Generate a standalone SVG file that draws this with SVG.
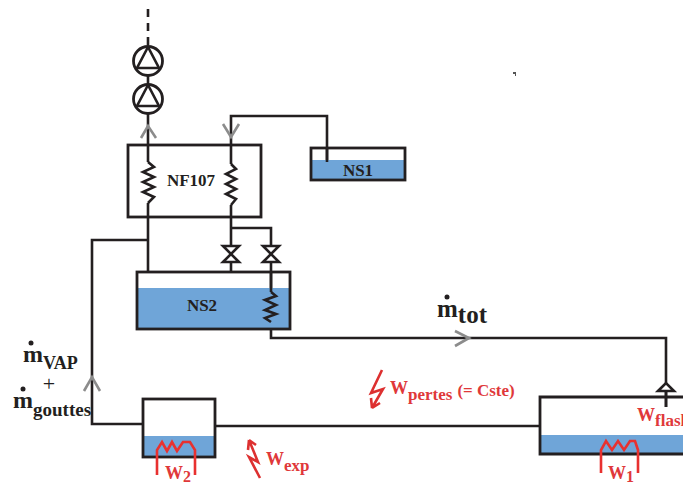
<svg xmlns="http://www.w3.org/2000/svg" width="683" height="484" viewBox="0 0 683 484">
<style>
text{font-family:"Liberation Serif","Times New Roman",serif;font-weight:bold}
.k{fill:#231f20}.r{fill:#e0383a}
.ln{fill:none;stroke:#231f20;stroke-width:2.6}
.frame{fill:none;stroke:#231f20;stroke-width:2.8}
.wat{fill:#6fa5d8}
.zig{fill:none;stroke:#231f20;stroke-width:2.6}
.heat{fill:none;stroke:#e8312f;stroke-width:2.6}
.gr{fill:none;stroke:#8c8c8c;stroke-width:2.6}
.bolt{fill:none;stroke:#dd3030;stroke-width:2.6}
.pump{fill:#fff;stroke:#231f20;stroke-width:2.8}
.valve{fill:#fff;stroke:#231f20;stroke-width:2.6}
</style>
<g id="connectors">
<path class="ln" stroke-dasharray="8 6" d="M148 9V45"/>
<path class="ln" d="M148 75V85M148 113V162M148 203V272"/>
<path class="ln" d="M231 164V116H327V162"/>
<path class="ln" d="M231 205V272"/>
<path class="ln" d="M231 228H271V292"/>
<path class="ln" d="M271 322V338H666V407"/>
<path class="ln" d="M148 240H92V424H142"/>
<path class="ln" d="M215 426H539"/>
<path class="gr" d="M141 138L148 126L156 138"/>
<path class="gr" d="M223 124L231 137L239 124"/>
<path class="gr" d="M84 391L92 377L100 391"/>
<path class="gr" d="M455 331L469 338L455 346"/>
</g>
<g id="NF107"><rect class="frame" x="128" y="145" width="133" height="72"/>
<path class="zig" d="M148 162L154 167L143 172L154 177L143 182L154 187L143 192L154 197L148 203"/>
<path class="zig" d="M231 164L236 169L226 174L236 179L226 184L236 189L226 194L236 199L231 205"/>
<text class="k" x="191" y="186" font-size="17" text-anchor="middle">NF107</text></g>
<g id="NS1"><rect class="wat" x="311" y="160" width="94" height="20"/><rect class="frame" x="311" y="148" width="94" height="32"/>
<path class="ln" d="M327 148V162"/>
<text class="k" x="358" y="176" font-size="17" text-anchor="middle">NS1</text></g>
<g id="NS2"><rect class="wat" x="137" y="288" width="153" height="41"/><rect class="frame" x="137" y="272" width="153" height="57"/>
<path class="ln" d="M271 272V292"/>
<path class="zig" d="M271 292L276 296L265 300L276 305L265 310L276 314L265 318L271 322"/>
<text class="k" x="202" y="311" font-size="17" text-anchor="middle">NS2</text></g>
<g id="pump1"><circle class="pump" cx="148" cy="61" r="14.5"/><path class="ln" d="M148 47L137 68H159Z"/></g>
<g id="pump2"><circle class="pump" cx="148" cy="99" r="14.5"/><path class="ln" d="M148 85L137 106H159Z"/></g>
<g id="valve1"><path class="valve" d="M223 246H239L223 262H239Z"/></g>
<g id="valve2"><path class="valve" d="M263 246H279L263 262H279Z"/></g>
<g id="W2tank"><rect class="wat" x="143" y="436" width="72" height="21"/><rect class="frame" x="143" y="399" width="72" height="58"/>
<path class="heat" d="M157 475V450L162 442L167 451L172 442L177 451L183 442L190 442L195 450V475"/>
<text class="r" x="165" y="479" font-size="18">W<tspan font-size="16" dy="3">2</tspan></text></g>
<g id="W1tank"><rect class="wat" x="540" y="435" width="143" height="19"/>
<path class="frame" d="M683 397H540V454H683"/>
<path class="heat" d="M601 473V450L606 441L612 450L618 441L624 450L630 441L635 441L638 450V473"/>
<text class="r" x="608" y="479" font-size="18">W<tspan font-size="16" dy="3">1</tspan></text></g>
<g id="flashvalve"><path class="valve" d="M658 391L666 383L674 391Z"/><path class="ln" d="M666 391V407"/>
<text class="r" x="637" y="421" font-size="18">W<tspan font-size="17" dy="5">flash</tspan></text></g>
<g id="labels">
<text class="k" x="23" y="362" font-size="24">m<tspan font-size="18" dy="7">VAP</tspan></text>
<circle class="k" cx="31" cy="343" r="2.5"/>
<text class="k" x="49" y="391" font-size="22" text-anchor="middle" style="font-weight:normal">+</text>
<text class="k" x="13" y="408" font-size="24">m<tspan font-size="19" dy="8">gouttes</tspan></text>
<circle class="k" cx="23" cy="389" r="2.5"/>
<text class="k" x="437" y="317" font-size="25">m<tspan font-size="25" dy="6">tot</tspan></text>
<circle class="k" cx="447" cy="297" r="2.5"/>
<path class="bolt" d="M260 478L249 457L258 462L249 440M249 440L248 450M249 440L256 445"/>
<text class="r" x="266" y="465" font-size="18">W<tspan font-size="17" dy="6">exp</tspan></text>
<path class="bolt" d="M382 370L371 393L383 389L372 408M372 408L371 398M372 408L380 403"/>
<text class="r" x="390" y="394" font-size="18">W<tspan font-size="17" dy="6">pertes</tspan><tspan font-size="17" dy="-4" dx="5">(= Cste)</tspan></text>
<path fill="#555" d="M513 72H516V76H515V74H513Z"/>
</g>
</svg>
